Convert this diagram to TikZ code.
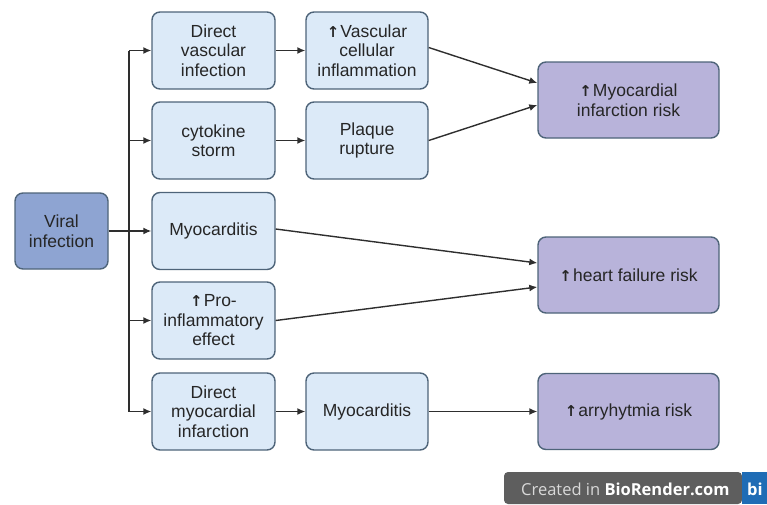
\documentclass[tikz,border=0pt]{standalone}
\usepackage{fontspec}
\setmainfont{Liberation Sans}
\newfontfamily\arrowfont{DejaVu Sans}
\newfontfamily\wmfont{Open Sans}
\usetikzlibrary{arrows.meta}

\definecolor{boxline}{HTML}{4E6479}
\definecolor{lightbox}{HTML}{DCEAF8}
\definecolor{viralbox}{HTML}{8EA4D2}
\definecolor{riskbox}{HTML}{B8B3DA}
\definecolor{wmgray}{HTML}{5E5E5E}
\definecolor{wmblue}{HTML}{1F6CB5}
\newcommand{\uparr}{{\arrowfont\bfseries\fontsize{15}{15}\selectfont ↑}\kern1pt}

\begin{document}
\begin{tikzpicture}[x=1pt, y=-1pt,
    box/.style={draw=boxline, line width=1.4pt, rounded corners=8pt, align=center,
        inner sep=0pt, text=black!85, font=\fontsize{17.5}{19.5}\selectfont},
    cause/.style={box, fill=lightbox, minimum width=123pt, minimum height=77pt},
    viral/.style={box, fill=viralbox, minimum width=93pt, minimum height=76pt},
    risk/.style={box, fill=riskbox, minimum width=181pt, minimum height=76pt},
    arr/.style={line width=1.4pt, draw=black!82, -{Latex[length=8pt,width=7pt]}},
    bus/.style={line width=1.4pt, draw=black!82}]
    \useasboundingbox (0,0) rectangle (767,504);

    % viral infection
    \node[viral] (vir) at (61.5,231) {Viral\\infection};
    \coordinate (split) at (129,231);

    % second column
    \node[cause] (dvi) at (213.5,50.5) {Direct\\vascular\\infection};
    \node[cause] (cyt) at (213.5,140.5) {cytokine\\storm};
    \node[cause] (myo) at (213.5,231) {Myocarditis};
    \node[cause] (pro) at (213.5,320.5) {\uparr Pro-\\inflammatory\\effect};
    \node[cause] (dmi) at (213.5,411.5) {Direct\\myocardial\\infarction};

    % third column
    \node[cause, minimum width=122pt] (vci) at (367,50.5) {\uparr Vascular\\cellular\\inflammation};
    \node[cause, minimum width=122pt] (plq) at (367,140.5) {Plaque\\rupture};
    \node[cause, minimum width=122pt] (myo2) at (367,411.5) {Myocarditis};

    % risks
    \node[risk] (mir) at (628.5,100) {\uparr Myocardial\\infarction risk};
    \node[risk] (hfr) at (628.5,275) {\uparr heart failure risk};
    \node[risk] (arr) at (628.5,411.5) {\uparr arryhytmia risk};

    % branching
    \draw[bus] (vir.east) -- (split);
    \draw[bus] (split |- dvi.west) -- (split |- dmi.west);
    \foreach \n in {dvi,cyt,myo,pro,dmi}
        \draw[arr] (split |- \n.west) -- (\n.west);

    % links
    \draw[arr] (dvi) -- (vci);
    \draw[arr] (cyt) -- (plq);
    \draw[arr] (dmi) -- (myo2);
    \draw[arr] (myo2) -- (arr);
    \draw[arr] ([yshift=3pt]vci.east) -- ([yshift=17pt]mir.west);
    \draw[arr] (plq.east) -- ([yshift=-5pt]mir.west);
    \draw[arr] ([yshift=2pt]myo.east) -- ([yshift=12pt]hfr.west);
    \draw[arr] (pro.east) -- ([yshift=-12pt]hfr.west);

    % watermark
    \fill[wmgray, rounded corners=4pt] (504,504) -- (504,472) -- (742,472) -- (742,504) -- cycle;
    \fill[wmblue] (742,472) rectangle (767,504);
    \node[anchor=west, inner sep=0pt, font=\wmfont\fontsize{16.5}{16.5}\selectfont] (wm) at (521,489)
        {\textcolor{black!15}{Created in} \textcolor{white}{\bfseries BioRender.com}};
    \node[anchor=west, inner sep=0pt, text=white, font=\wmfont\bfseries\fontsize{16.5}{16.5}\selectfont] (wmb) at (747,489) {bi};
\end{tikzpicture}
\end{document}
